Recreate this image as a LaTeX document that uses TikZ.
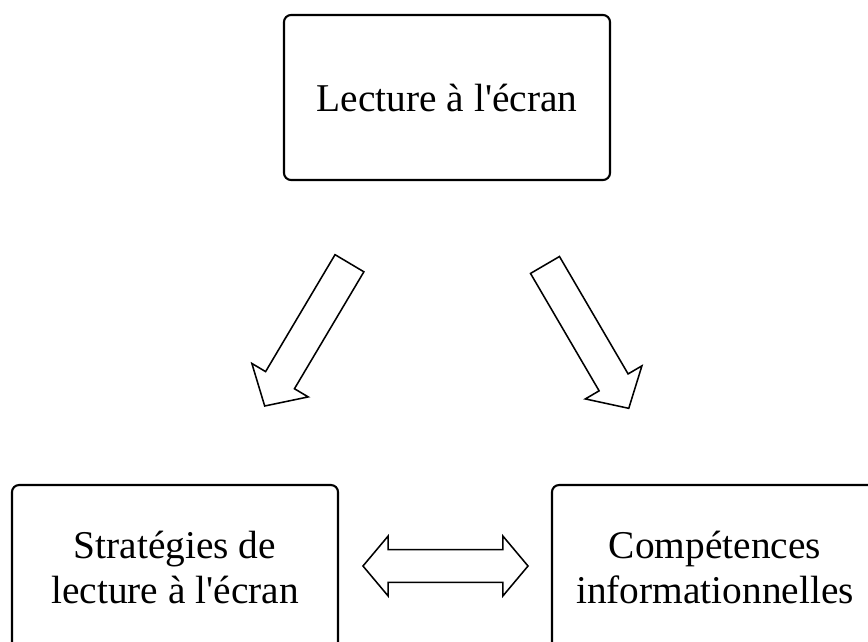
\documentclass[tikz,border=0pt]{standalone}
\usepackage{fontspec}
\setmainfont{Liberation Serif}
\usetikzlibrary{shapes.arrows}

\begin{document}
\begin{tikzpicture}[x=0.025cm, y=-0.025cm,
boite/.style={draw, line width=1.5pt, rounded corners=0.18cm, minimum width=8.15cm,
minimum height=4.125cm, align=center, font=\fontsize{28}{31.5}\selectfont},
fleche/.style={draw, line width=1.1pt, single arrow, inner xsep=0pt, inner ysep=0.4cm,
single arrow head extend=0.4cm, single arrow tip angle=95, minimum height=4.15cm},
dfleche/.style={draw, line width=1.1pt, double arrow, inner xsep=0pt, inner ysep=0.39cm,
double arrow head extend=0.34cm, double arrow tip angle=100, minimum height=4.125cm}]

\useasboundingbox (0,0) rectangle (868,641);

\node[boite] (ecran) at (447,97.5) {Lecture à l\textquotesingle écran};
\node[boite] (strat) at (175,567.5) {Stratégies de\\lecture à l\textquotesingle écran};
\node[boite] (comp) at (715,567.5) {Compétences\\informationnelles};

\node[fleche, rotate=239.3] (versstrat) at (311,328) {};
\node[fleche, rotate=-59.7] (verscomp) at (583,330) {};
\node[dfleche] (lien) at (445.5,566) {};

\end{tikzpicture}
\end{document}
